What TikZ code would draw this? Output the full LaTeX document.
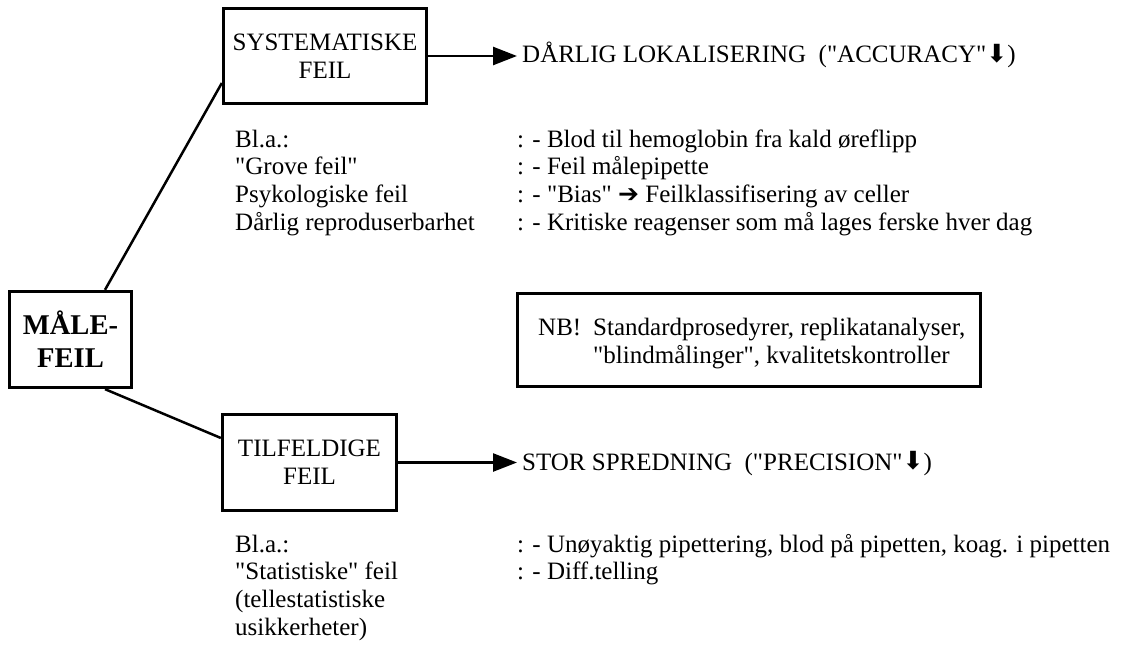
\documentclass[tikz,border=0pt]{standalone}
\usepackage{fontspec}
\newfontfamily\tnr{Liberation Serif}
\newfontfamily\symfont{DejaVu Sans}
\usetikzlibrary{arrows.meta}
\newcommand\bodyfont{\tnr\fontsize{25}{27.8}\selectfont}
\newcommand\boldfont{\tnr\fontsize{28.6}{32.8}\selectfont\bfseries}
\newcommand\dnarrow{{\symfont\raisebox{0.5pt}{\scalebox{1.0}{⬇}}}}
\newcommand\rtarrow{{\symfont\scalebox{1.0}{➔}}}
\begin{document}
\begin{tikzpicture}[x=1pt,y=-1pt,
  box/.style={draw,line width=3.3pt,align=center,inner sep=0pt},
  txt/.style={anchor=base west,inner sep=0pt,font=\bodyfont},
  conn/.style={line width=2.5pt},
  arr/.style={line width=2.5pt,-{Triangle[length=24pt,width=18pt]}}]
\useasboundingbox[fill=white] (0,0) rectangle (1129,650);

% boxes
\node[box,minimum width=203pt,minimum height=95pt,font=\bodyfont] (sys) at (325,56) {SYSTEMATISKE\\FEIL};
\node[box,minimum width=122pt,minimum height=96pt,font=\boldfont] (male) at (70.5,339.5) {MÅLE-\\FEIL};
\node[box,minimum width=174pt,minimum height=96pt,font=\bodyfont] (til) at (309.5,462.5) {TILFELDIGE\\FEIL};
\node[box,minimum width=463pt,minimum height=93pt] (nb) at (749,340) {};

% NB text
\node[txt] (nb1) at (538,335) {NB!};
\node[txt] (nb2) at (593,335) {Standardprosedyrer, replikatanalyser,};
\node[txt] (nb3) at (593,363) {"blindmålinger", kvalitetskontroller};

% outcome texts
\node[txt] (dar) at (522,63) {DÅRLIG LOKALISERING\ \ ("ACCURACY"\dnarrow)};
\node[txt] (stor) at (522,470) {STOR SPREDNING\ \ ("PRECISION"\dnarrow)};

% connectors
\draw[conn] ([xshift=34.5pt]male.north) -- ([yshift=-27pt]sys.west);
\draw[conn] ([xshift=34.5pt]male.south) -- ([yshift=24.5pt]til.west);
\draw[arr] (sys.east) -- ([xshift=-5pt]sys.east -| dar.west);
\draw[arr] (til.east) -- ([xshift=-5pt]til.east -| stor.west);

% systematic list
\node[txt] (s1) at (235,147) {Bl.a.:};
\node[txt] (s2) at (235,174.8) {"Grove feil"};
\node[txt] (s3) at (235,202.6) {Psykologiske feil};
\node[txt] (s4) at (235,230.4) {Dårlig reproduserbarhet};
\node[txt] (r1) at (517,147) {: - Blod til hemoglobin fra kald øreflipp};
\node[txt] (r2) at (517,174.8) {: - Feil målepipette};
\node[txt] (r3) at (517,202.6) {: - "Bias" \rtarrow{} Feilklassifisering av celler};
\node[txt] (r4) at (517,230.4) {: - Kritiske reagenser som må lages ferske hver dag};

% random list
\node[txt] (t1) at (235,552) {Bl.a.:};
\node[txt] (t2) at (235,579.8) {"Statistiske" feil};
\node[txt] (t3) at (235,607.6) {(tellestatistiske};
\node[txt] (t4) at (235,635.4) {usikkerheter)};
\node[txt] (u1) at (517,552) {: - Unøyaktig pipettering, blod på pipetten, koag. i pipetten};
\node[txt] (u2) at (517,579.8) {: - Diff.telling};
\end{tikzpicture}
\end{document}
